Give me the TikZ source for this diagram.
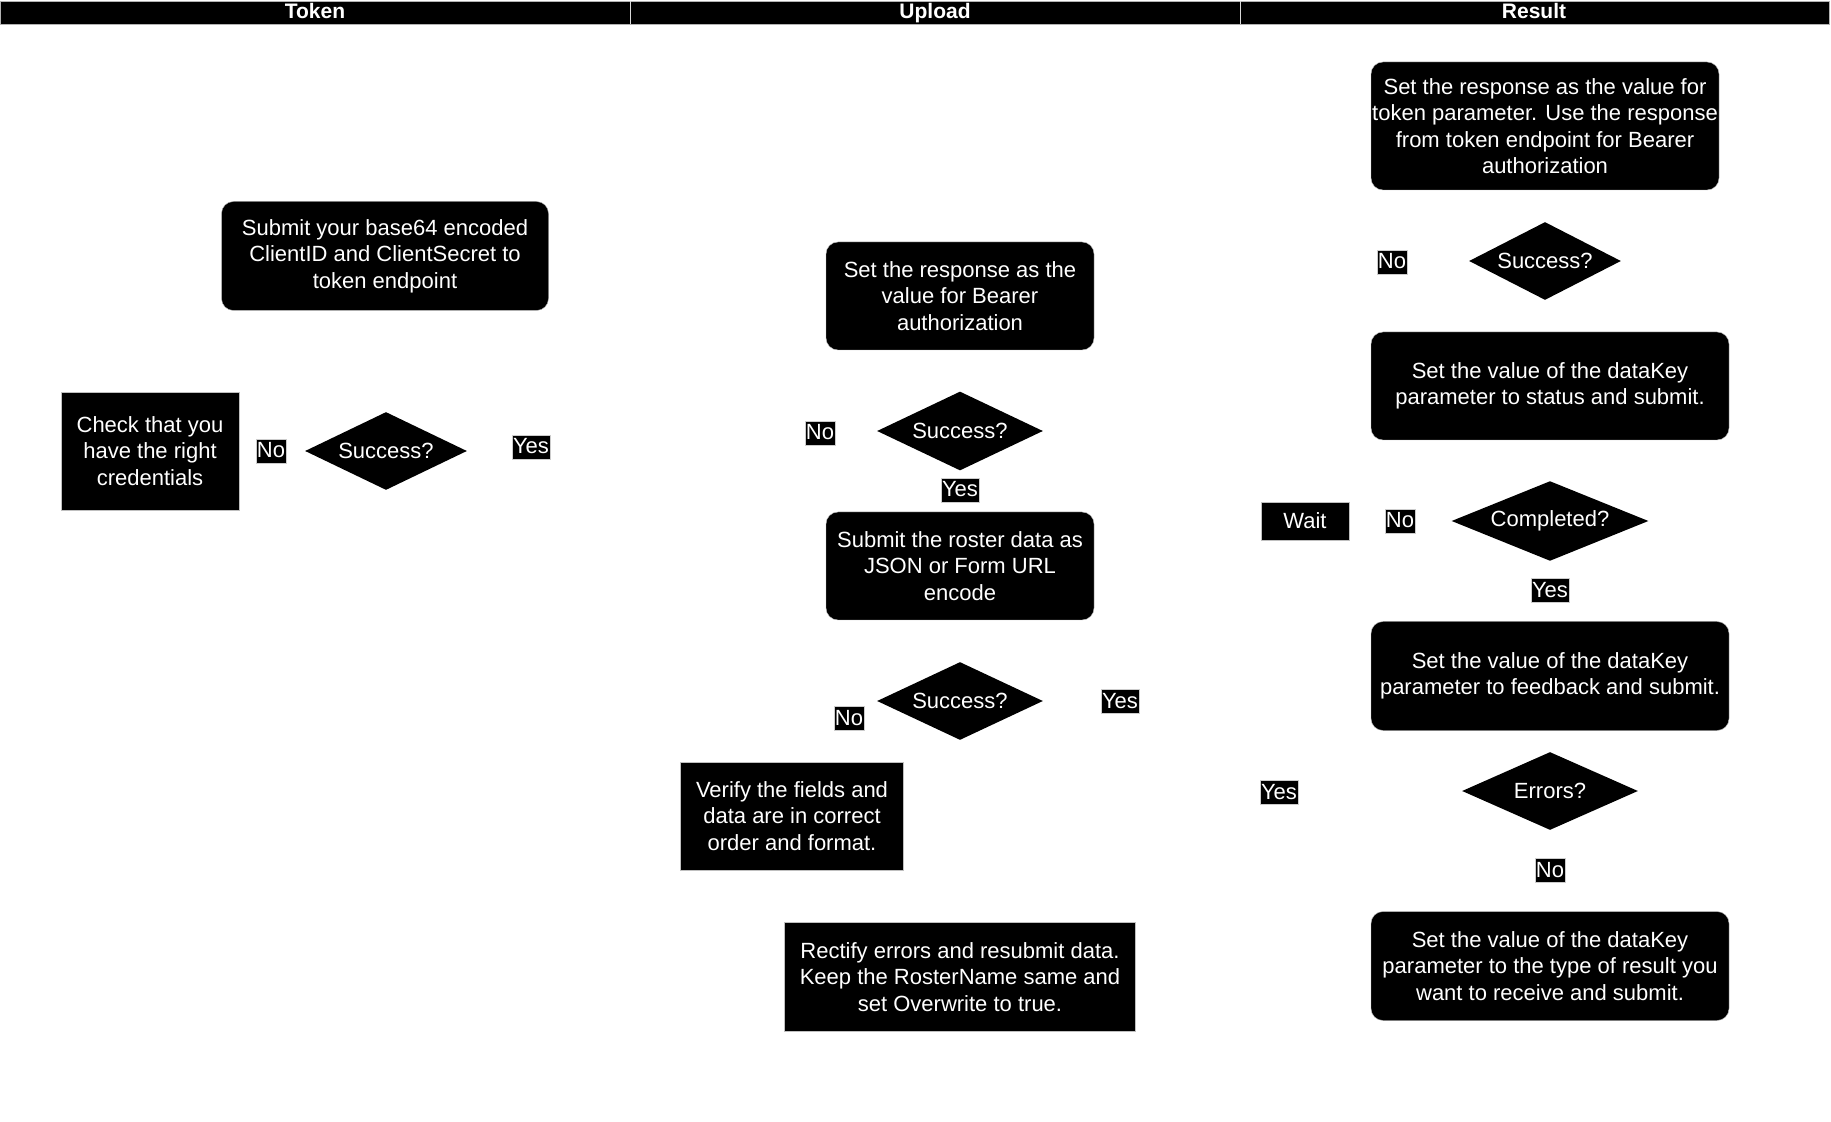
\documentclass[tikz,border=0pt]{standalone}
\usepackage{fontspec}
\setmainfont{Liberation Sans}
\usetikzlibrary{shapes.geometric,positioning}

\begin{document}
\begin{tikzpicture}[
    x=0.5pt, y=-0.5pt,
    every node/.style={font=\fontsize{11}{13.2}\selectfont, text=white},
    roundbox/.style={rectangle, fill=black, draw=gray!50, very thin, rounded corners=6pt,
                     align=center, inner sep=0pt},
    sqbox/.style={rectangle, fill=black, draw=gray!50, very thin, align=center, inner sep=0pt},
    decision/.style={diamond, fill=black, aspect=2, inner sep=0pt},
    answer/.style={rectangle, fill=black, draw=gray!40, very thin, inner xsep=0.6pt,
                   inner ysep=1pt, text height=8.5pt, text depth=1.5pt},
    lanehead/.style={font=\fontsize{10.5}{12}\selectfont\bfseries, text=white,
                     text height=7.5pt, text depth=2pt, inner sep=0pt}
]
    % page and lane header
    \fill[white] (0,0) rectangle (1831,1122);
    \useasboundingbox (0,0) rectangle (1831,1122);
    \fill[black] (0,1) rectangle (1829,24);
    \draw[gray!60, very thin] (0,1) rectangle (1829,24);
    \draw[gray!30, very thin] (630,1) -- (630,24) (1240,1) -- (1240,24);
    \node[lanehead] (hdtoken) at (315,13) {Token};
    \node[lanehead] (hdupload) at (935,13) {Upload};
    \node[lanehead] (hdresult) at (1534,13) {Result};

    % Token lane
    \node[roundbox, minimum width=163.5pt, minimum height=54.5pt] (submit) at (385,256)
        {Submit your base64 encoded\\ClientID and ClientSecret to\\token endpoint};
    \node[decision, minimum width=81pt, minimum height=39pt] (tokok) at (386,451) {Success?};
    \node[answer] (tokno) at (271,451) {No};
    \node[answer] (tokyes) at (531,447) {Yes};
    \node[sqbox, minimum width=89pt, minimum height=59pt] (creds) at (150,451)
        {Check that you\\have the right\\credentials};

    % Upload lane
    \node[roundbox, minimum width=134pt, minimum height=54pt] (bearer) at (960,296)
        {Set the response as the\\value for Bearer\\authorization};
    \node[decision, minimum width=83pt, minimum height=39.5pt] (bearok) at (960,431) {Success?};
    \node[answer] (bearno) at (820,433) {No};
    \node[answer] (bearyes) at (960,490) {Yes};
    \node[roundbox, minimum width=134pt, minimum height=54pt] (roster) at (960,566)
        {Submit the roster data as\\JSON or Form URL\\encode};
    \node[decision, minimum width=83pt, minimum height=39pt] (rosterok) at (960,701) {Success?};
    \node[answer] (rosterno) at (849,718) {No};
    \node[answer] (rosteryes) at (1120,701) {Yes};
    \node[sqbox, minimum width=111.5pt, minimum height=54pt] (verify) at (792,816)
        {Verify the fields and\\data are in correct\\order and format.};
    \node[sqbox, minimum width=175.5pt, minimum height=54.5pt] (rectify) at (960,977)
        {Rectify errors and resubmit data.\\Keep the RosterName same and\\set Overwrite to true.};

    % Result lane
    \node[roundbox, minimum width=174pt, minimum height=64pt] (tokparam) at (1545,126)
        {Set the response as the value for\\token parameter. Use the response\\from token endpoint for Bearer\\authorization};
    \node[decision, minimum width=76pt, minimum height=39pt] (resok) at (1545,261) {Success?};
    \node[answer] (resno) at (1392,262) {No};
    \node[roundbox, minimum width=179pt, minimum height=54pt] (status) at (1550,386)
        {Set the value of the dataKey\\parameter to status and submit.};
    \node[decision, minimum width=98.5pt, minimum height=39.5pt] (done) at (1550,521) {Completed?};
    \node[answer] (doneno) at (1400,521) {No};
    \node[sqbox, minimum width=44pt, minimum height=19pt] (wait) at (1305,521) {Wait};
    \node[answer] (doneyes) at (1550,590) {Yes};
    \node[roundbox, minimum width=179pt, minimum height=54.5pt] (feedback) at (1550,676)
        {Set the value of the dataKey\\parameter to feedback and submit.};
    \node[decision, minimum width=88pt, minimum height=39pt] (errs) at (1550,791) {Errors?};
    \node[answer] (errsyes) at (1279,792) {Yes};
    \node[answer] (errsno) at (1550,870) {No};
    \node[roundbox, minimum width=179pt, minimum height=54.5pt] (restype) at (1550,966)
        {Set the value of the dataKey\\parameter to the type of result you\\want to receive and submit.};
\end{tikzpicture}
\end{document}
